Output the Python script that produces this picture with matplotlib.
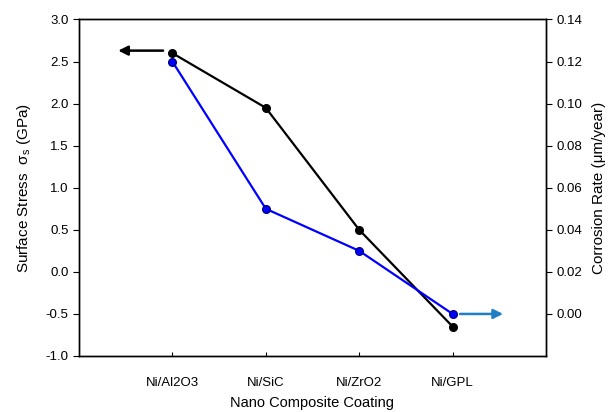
import matplotlib
matplotlib.use("Agg")
import matplotlib.pyplot as plt

plt.rcParams['font.family'] = ['Liberation Sans', 'DejaVu Sans']
plt.rcParams['mathtext.fontset'] = 'custom'
plt.rcParams['mathtext.rm'] = 'Liberation Sans'

coatings = ["Ni/Al2O3", "Ni/SiC", "Ni/ZrO2", "Ni/GPL"]
surface_stress = [2.6, 1.95, 0.5, -0.65]      # GPa, left axis
corrosion_rate = [0.12, 0.05, 0.03, 0.0]      # um/year, right axis

xpos = [1, 2, 3, 4]

fig = plt.figure(figsize=(6.13, 4.12), dpi=100)
ax1 = fig.add_axes([79 / 613, 1 - 356 / 412, 467 / 613, 336.5 / 412])

# surface stress (black)
ax1.plot(xpos, surface_stress, color='black', lw=1.6, marker='o', ms=5.5,
         zorder=3)
ax1.set_xlim(0, 5)
ax1.set_ylim(-1.0, 3.0)
ax1.set_yticks([-1.0, -0.5, 0.0, 0.5, 1.0, 1.5, 2.0, 2.5, 3.0])
ax1.set_yticklabels(["%.1f" % v for v in ax1.get_yticks()])
ax1.set_xticks(xpos)
ax1.set_xticklabels(coatings)
ax1.tick_params(axis='x', direction='in', length=3, labelsize=9.5, pad=15)
ax1.tick_params(axis='y', direction='out', length=4, labelsize=9.5)
ax1.set_xlabel("Nano Composite Coating", fontsize=10.5, labelpad=5)
ax1.set_ylabel("Surface Stress  \u03c3$_\\mathrm{s}$ (GPa)", fontsize=11,
               labelpad=9)
ax1.annotate("", xy=(0.39, 2.63), xytext=(0.93, 2.63),
             arrowprops=dict(arrowstyle='-|>', color='black', lw=1.8,
                             mutation_scale=14))

# corrosion rate (blue)
ax2 = ax1.twinx()
ax2.plot(xpos, corrosion_rate, color='#0000ff', lw=1.6, marker='o', ms=5.5,
         markeredgecolor='#00008b', zorder=3)
ax2.set_ylim(-0.02, 0.14)
ax2.set_yticks([0.0, 0.02, 0.04, 0.06, 0.08, 0.10, 0.12, 0.14])
ax2.set_yticklabels(["%.2f" % v for v in ax2.get_yticks()])
ax2.tick_params(axis='y', direction='out', length=4, labelsize=9.5)
ax2.set_ylabel("Corrosion Rate (\u03bcm/year)", fontsize=11, labelpad=7)
ax2.annotate("", xy=(4.57, 0.0), xytext=(4.05, 0.0),
             arrowprops=dict(arrowstyle='-|>', color='#1f7fc4', lw=1.8,
                             mutation_scale=14))

for ax in (ax1, ax2):
    for sp in ax.spines.values():
        sp.set_linewidth(1.0)

fig.savefig("out.png", dpi=100)
